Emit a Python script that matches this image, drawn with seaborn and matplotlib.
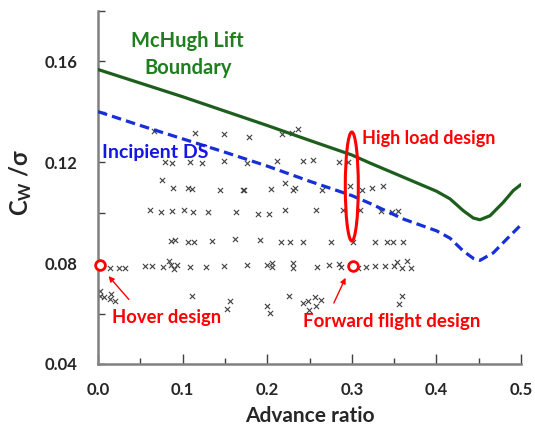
import numpy as np
import pandas as pd
import matplotlib
matplotlib.use("Agg")
import matplotlib.pyplot as plt
from matplotlib.patches import Ellipse
from matplotlib.ticker import MultipleLocator, FixedLocator, FixedFormatter
import seaborn as sns

# ---- data ----
mu_pts = [0.0665, 0.1147, 0.149, 0.079, 0.087, 0.1087, 0.1225, 0.149, 0.076, 0.0883,
          0.106, 0.1107, 0.1446, 0.1718, 0.0619, 0.0745, 0.087, 0.102, 0.1119, 0.1304,
          0.1635,
          0.1785, 0.2179, 0.2297, 0.2368, 0.1757, 0.2112, 0.2427, 0.2537, 0.2845, 0.2955,
          0.221, 0.1726, 0.2041, 0.2309, 0.2333, 0.2648, 0.2979, 0.3124, 0.3239, 0.3365,
          0.1895, 0.2025, 0.221, 0.2577, 0.29, 0.3097, 0.3349, 0.3475, 0.3546,
          0.0863, 0.091, 0.106, 0.1131, 0.1351, 0.1619,
          0.0146, 0.0252, 0.0319, 0.0556, 0.0642, 0.0772, 0.0839, 0.0863, 0.0895, 0.093,
          0.1087, 0.1277, 0.1493,
          0.002, 0.002, 0.0075, 0.0154, 0.0146, 0.0201, 0.1115, 0.1556, 0.152,
          0.1915, 0.2159, 0.227, 0.2427, 0.275, 0.3018, 0.3274, 0.3412, 0.3483, 0.3609,
          0.1757, 0.1993, 0.2053, 0.2053, 0.23, 0.2309, 0.2585, 0.2734, 0.2845, 0.2868,
          0.3077, 0.3164, 0.3274, 0.3396, 0.3499, 0.3538, 0.3597, 0.3656, 0.3695,
          0.2261, 0.2427, 0.2486, 0.2569, 0.264, 0.2498, 0.2577, 0.1994, 0.2033, 0.3593,
          0.3554]
cw_pts = [0.1324, 0.1315, 0.1311, 0.1201, 0.1199, 0.1201, 0.1199, 0.1204, 0.1128, 0.1097,
          0.1099, 0.1095, 0.1089, 0.1089, 0.1009, 0.1001, 0.1005, 0.1009, 0.1001, 0.1001,
          0.1001,
          0.1299, 0.1311, 0.1315, 0.1332, 0.1199, 0.1204, 0.1204, 0.1208, 0.1203, 0.1200,
          0.1119, 0.1091, 0.1095, 0.1092, 0.1099, 0.1092, 0.1104, 0.1092, 0.1099, 0.1104,
          0.0995, 0.0995, 0.1011, 0.1011, 0.1011, 0.1011, 0.1005, 0.1001, 0.1005,
          0.0888, 0.0891, 0.0885, 0.0885, 0.0888, 0.0895,
          0.0781, 0.0779, 0.0779, 0.0788, 0.0788, 0.0784, 0.0808, 0.0791, 0.0775, 0.0792,
          0.0784, 0.0784, 0.0788,
          0.0688, 0.0668, 0.0665, 0.0677, 0.0659, 0.0649, 0.0668, 0.0651, 0.0619,
          0.0891, 0.0885, 0.0885, 0.0885, 0.0885, 0.0885, 0.0885, 0.0885, 0.0885, 0.0885,
          0.0792, 0.0792, 0.0801, 0.0785, 0.0801, 0.0781, 0.0784, 0.0792, 0.0797, 0.0785,
          0.0781, 0.0784, 0.0788, 0.0788, 0.0788, 0.0805, 0.0779, 0.0808, 0.0781,
          0.0671, 0.0641, 0.0651, 0.0667, 0.0652, 0.0615, 0.0631, 0.0631, 0.0601, 0.0671,
          0.0639]

mchugh_mu = [0.0, 0.05, 0.10, 0.15, 0.20, 0.25, 0.30, 0.3215, 0.3609, 0.4003, 0.4161,
             0.4318, 0.4436, 0.4515, 0.4634, 0.479, 0.4909, 0.50]
mchugh_cw = [0.1568, 0.1514, 0.1460, 0.1403, 0.1346, 0.1287, 0.1229, 0.1197, 0.1141,
             0.1085, 0.1055, 0.1008, 0.0979, 0.0972, 0.0988, 0.1041, 0.1088, 0.1112]

ds_mu = [0.0, 0.05, 0.10, 0.15, 0.20, 0.25, 0.30, 0.3215, 0.3609, 0.4003, 0.4161,
         0.4318, 0.4436, 0.4515, 0.4673, 0.483, 0.50]
ds_cw = [0.1401, 0.1346, 0.1293, 0.1240, 0.1185, 0.1125, 0.1068, 0.1037, 0.0975,
         0.0928, 0.0899, 0.0848, 0.0819, 0.0811, 0.0841, 0.0895, 0.0952]

hover_design = (0.002, 0.0791)
forward_design = (0.302, 0.0787)
high_load_center = (0.300, 0.1104)

x_ticks = [0.0, 0.1, 0.2, 0.3, 0.4, 0.5]
x_ticklabels = ["0.0", "0.1", "0.2", "0.3", "0.4", "0.5"]
y_ticks = [0.04, 0.06, 0.08, 0.10, 0.12, 0.14, 0.16, 0.18]
y_ticklabels = ["0.04", "", "0.08", "", "0.12", "", "0.16", ""]

# ---- style ----
sns.set_style("white")
plt.rcParams["font.family"] = ["Lato", "DejaVu Sans"]
plt.rcParams["font.weight"] = "bold"
plt.rcParams["mathtext.fontset"] = "custom"
plt.rcParams["mathtext.rm"] = "Lato:bold"
plt.rcParams["mathtext.it"] = "Lato:bold"
plt.rcParams["mathtext.bf"] = "Lato:bold"

fig = plt.figure(figsize=(5.35, 4.37), dpi=100)
ax = fig.add_axes([98 / 535, 1 - 364 / 437, (521 - 98) / 535, (364 - 11) / 437])

pts = pd.DataFrame({"mu": mu_pts, "cw": cw_pts})
sns.scatterplot(data=pts, x="mu", y="cw", marker="x", s=14, color="#404040",
                linewidth=0.8, ax=ax, zorder=2)

sns.lineplot(x=mchugh_mu, y=mchugh_cw, color="#1d5e1d", linewidth=2.3, ax=ax,
             zorder=3, sort=False)
sns.lineplot(x=ds_mu, y=ds_cw, color="#1530d8", linewidth=2.3, ax=ax, zorder=3,
             sort=False)
ax.lines[-1].set_dashes([3.0, 1.6])

# design points
ax.plot(*hover_design, marker="o", markersize=7, markerfacecolor="white",
        markeredgecolor="#ff0000", markeredgewidth=2, zorder=5, clip_on=False)
ax.plot(*forward_design, marker="o", markersize=7, markerfacecolor="white",
        markeredgecolor="#ff0000", markeredgewidth=2, zorder=5)

ell = Ellipse(high_load_center, width=0.0154, height=0.0432, fill=False,
              edgecolor="#ff0000", linewidth=2.2, zorder=6)
ax.add_patch(ell)

# annotations
red = "#ff0000"
ax.annotate("", xy=(0.0103, 0.0757), xytext=(0.0386, 0.0648),
            arrowprops=dict(arrowstyle="-|>", color=red, lw=1, mutation_scale=8))
ax.annotate("", xy=(0.294, 0.0752), xytext=(0.2774, 0.0632),
            arrowprops=dict(arrowstyle="-|>", color=red, lw=1, mutation_scale=8))

ax.text(0.106, 0.1628, "McHugh Lift\nBoundary", color="#1f7f1f", fontsize=14.5,
        fontweight="bold", ha="center", va="center", multialignment="center",
        linespacing=1.45)
ax.text(0.005, 0.1238, "Incipient DS", color="#1515e6", fontsize=14,
        fontweight="bold", ha="left", va="center")
ax.text(0.312, 0.1296, "High load design", color=red, fontsize=13,
        fontweight="bold", ha="left", va="center")
ax.text(0.017, 0.0584, "Hover design", color=red, fontsize=13.2,
        fontweight="bold", ha="left", va="center")
ax.text(0.242, 0.0570, "Forward flight design", color=red, fontsize=13.5,
        fontweight="bold", ha="left", va="center")

# axes
ax.set_xlim(0, 0.5)
ax.set_ylim(0.04, 0.18)
ax.xaxis.set_major_locator(FixedLocator(x_ticks))
ax.xaxis.set_major_formatter(FixedFormatter(x_ticklabels))
ax.xaxis.set_minor_locator(MultipleLocator(0.05))
ax.yaxis.set_major_locator(FixedLocator(y_ticks))
ax.yaxis.set_major_formatter(FixedFormatter(y_ticklabels))
ax.tick_params(axis="x", which="major", direction="in", length=7, width=1,
               color="#404040", labelsize=12, pad=13, bottom=True)
ax.tick_params(axis="x", which="minor", direction="in", length=4, width=1,
               color="#404040", bottom=True)
ax.tick_params(axis="y", which="major", direction="in", length=5, width=1,
               color="#404040", labelsize=12, pad=15, left=True)
for lab in ax.get_xticklabels() + ax.get_yticklabels():
    lab.set_fontweight("bold")

for s in ["top", "right"]:
    ax.spines[s].set_visible(False)
for s in ["left", "bottom"]:
    ax.spines[s].set_color("#808080")
    ax.spines[s].set_linewidth(1.8)

ax.set_xlabel("Advance ratio", fontsize=15, fontweight="bold", labelpad=6)
ax.set_ylabel(r"C$_\mathrm{W}$ /σ", fontsize=17, fontweight="bold")
ax.yaxis.set_label_coords(-0.152, 0.515)

fig.savefig("out.png", dpi=100)
